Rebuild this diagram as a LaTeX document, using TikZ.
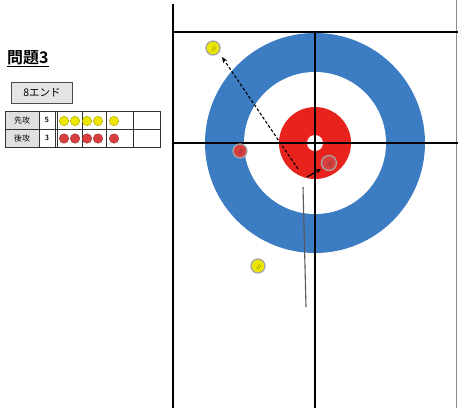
\documentclass[tikz,border=0pt]{standalone}
\usepackage{fontspec}
\newfontfamily\jp{Noto Sans CJK JP}
\newfontfamily\jpb{Noto Sans CJK JP Bold}
\usetikzlibrary{arrows.meta}
\definecolor{ringblue}{HTML}{3B7CC3}
\definecolor{ringred}{HTML}{E8231E}
\definecolor{stoneyel}{HTML}{EDE600}
\definecolor{stonered}{HTML}{D8403F}
\tikzset{
  sheetline/.style={line width=2pt, black},
  yelstone/.style={circle, minimum size=14pt, inner sep=0pt, fill=stoneyel, draw=gray!70, line width=1.3pt,
    path picture={\draw[stoneyel!65!black, line width=0.45pt] ([xshift=-1.5pt,yshift=-3pt]path picture bounding box.center) -- ++(3pt,5pt);
                  \draw[stoneyel!65!black, line width=0.45pt] ([xshift=0.5pt,yshift=-3.5pt]path picture bounding box.center) -- ++(2.6pt,4.5pt);}},
  redstone/.style={circle, minimum size=14pt, inner sep=0pt, fill=stonered, draw=gray!70, line width=1.3pt,
    path picture={\draw[stonered!65!black, line width=0.45pt] ([xshift=-1.5pt,yshift=-3pt]path picture bounding box.center) -- ++(3pt,5pt);
                  \draw[stonered!65!black, line width=0.45pt] ([xshift=0.5pt,yshift=-3.5pt]path picture bounding box.center) -- ++(2.6pt,4.5pt);}},
  tyel/.style={circle, minimum size=9.5pt, inner sep=0pt, fill=stoneyel, draw=stoneyel!70!black, line width=0.4pt},
  tred/.style={circle, minimum size=9.5pt, inner sep=0pt, fill=stonered, draw=stonered!70!black, line width=0.4pt},
  cell/.style={draw=black!80, line width=0.6pt},
}
\begin{document}
\begin{tikzpicture}[x=1pt,y=-1pt]
\useasboundingbox (0,0) rectangle (458,408);
\fill[white] (0,0) rectangle (458,408);
% house
\fill[ringblue] (315,143) circle (110);
\fill[white] (315,143) circle (71);
\fill[ringred] (315,143) circle (36);
\fill[white] (315,143) circle (8);
% sheet lines
\coordinate (sideTop) at (173,4);
\coordinate (sideBot) at (173,408);
\coordinate (backL) at (173,32);
\coordinate (backR) at (458,32);
\coordinate (teeL) at (173,143);
\coordinate (teeR) at (458,143);
\coordinate (cTop) at (315,32);
\coordinate (cBot) at (315,408);
\coordinate (rTop) at (456,0);
\coordinate (rBot) at (456,408);
\draw[sheetline] (sideTop) -- (sideBot);
\draw[line width=0.8pt, black!45] (rTop) -- (rBot);
\draw[sheetline] (backL) -- (backR);
\draw[sheetline] (teeL) -- (teeR);
\draw[line width=2.4pt] (cTop) -- (cBot);
% delivery path
\coordinate (pathTop) at (303,187);
\coordinate (pathBot) at (306,307);
\draw[line width=1.1pt, black!65] (pathTop) -- (pathBot);
% arrows
\coordinate (dashS) at (298,169);
\coordinate (dashE) at (222,57);
\draw[line width=1.1pt, dash pattern=on 3pt off 2pt, -{Stealth[length=6pt,width=5pt]}] (dashS) -- (dashE);
\coordinate (hitS) at (307,177);
\coordinate (hitE) at (321,169);
\draw[line width=1.2pt, -{Stealth[length=5pt,width=4.5pt]}] (hitS) -- (hitE);
% stones
\node[yelstone] (y1) at (213,48) {};
\node[redstone] (r1) at (240,151) {};
\node[redstone, minimum size=15pt] (r2) at (329,163) {};
\node[yelstone] (y2) at (258,266) {};
% title
\node[anchor=west, inner sep=0pt, font=\jpb\fontsize{16}{16}\selectfont] (title) at (7,59) {\underline{問題3}};
% button
\node[draw=black!70, fill=black!10, line width=0.8pt, minimum width=61pt, minimum height=21pt, inner sep=0pt,
      font=\jp\fontsize{10.5}{10.5}\selectfont] (btn) at (42,92.5) {8エンド};
% score table
\fill[black!12] (5,111) rectangle (39,147);
\draw[cell] (5,111) rectangle (160,147);
\draw[cell] (5,129) -- (160,129);
\foreach \x in {39,55,82,106,133} \draw[cell] (\x,111) -- (\x,147);
\draw[cell] (57,111) -- (57,147);
\node[font=\jp\fontsize{8}{8}\selectfont, inner sep=0pt] (lab1) at (22,120) {先攻};
\node[font=\jp\fontsize{8}{8}\selectfont, inner sep=0pt] (lab2) at (22,138) {後攻};
\node[font=\sffamily\bfseries\fontsize{7.5}{7.5}\selectfont, inner sep=0pt] (n1) at (47,120) {5};
\node[font=\sffamily\bfseries\fontsize{7.5}{7.5}\selectfont, inner sep=0pt] (n2) at (47,138) {3};
\foreach \x [count=\i] in {64,75,87,98,114} \node[tyel] (ty\i) at (\x,121) {};
\foreach \x [count=\i] in {64,75,87,98,114} \node[tred] (tr\i) at (\x,138.5) {};
\end{tikzpicture}
\end{document}
